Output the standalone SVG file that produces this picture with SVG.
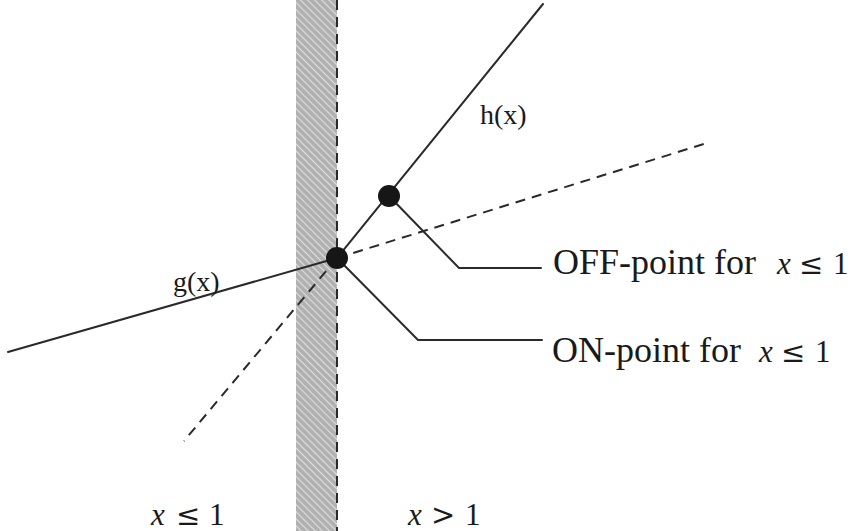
<svg xmlns="http://www.w3.org/2000/svg" width="851" height="531" viewBox="0 0 851 531">
  <defs>
    <pattern id="hatch" patternUnits="userSpaceOnUse" width="5" height="5" patternTransform="rotate(45)">
      <rect width="5" height="5" fill="#b0b0b0"/>
      <line x1="0" y1="2.5" x2="5" y2="2.5" stroke="#dedede" stroke-width="1.2"/>
    </pattern>
  </defs>
  <style>
    .ln { stroke: #2a2a2a; stroke-width: 2; fill: none; stroke-linecap: round; }
    .dash { stroke: #2a2a2a; stroke-width: 2; fill: none; stroke-dasharray: 10 7; }
    .pt { fill: #161616; }
    .txt { font-family: "Liberation Serif", "Times New Roman", serif; fill: #1a1a1a; }
    .big { font-size: 36px; }
    .fn { font-size: 28px; }
    .math { font-size: 31px; }
    .it { font-style: italic; }
    .rel { font-family: "DejaVu Serif", "Liberation Serif", serif; font-size: 29px; }
  </style>
  <rect width="851" height="531" fill="#ffffff"/>

  <g id="boundary">
    <rect x="296" y="0" width="41" height="531" fill="url(#hatch)"/>
    <line x1="337" y1="0" x2="337" y2="531" class="dash" stroke-width="1.6"/>
  </g>

  <g id="connectors">
    <line class="ln" x1="337" y1="258" x2="543" y2="4"/>
    <line class="dash" x1="337" y1="258" x2="184" y2="441"/>
    <line class="ln" x1="8" y1="352" x2="337" y2="258"/>
    <line class="dash" x1="337" y1="258" x2="707" y2="143"/>
    <polyline class="ln" points="389,196 459,268 541,268"/>
    <polyline class="ln" points="337,258 418,340 542,340"/>
  </g>

  <g id="on-point">
    <circle class="pt" cx="337" cy="258" r="11"/>
  </g>
  <g id="off-point">
    <circle class="pt" cx="389" cy="196" r="11"/>
  </g>

  <g id="label-h">
    <text class="txt fn" x="480" y="124">h(x)</text>
  </g>
  <g id="label-g">
    <text class="txt fn" x="173" y="291">g(x)</text>
  </g>

  <g id="label-off">
    <text class="txt big" x="553" y="274">OFF-point for</text>
    <text class="txt math" y="274"><tspan class="it" x="777">x</tspan><tspan class="rel" x="799">≤</tspan><tspan x="833">1</tspan></text>
  </g>
  <g id="label-on">
    <text class="txt big" x="552" y="362">ON-point for</text>
    <text class="txt math" y="362"><tspan class="it" x="759">x</tspan><tspan class="rel" x="781">≤</tspan><tspan x="815">1</tspan></text>
  </g>

  <g id="label-left">
    <text class="txt math" y="525"><tspan class="it" x="151">x</tspan><tspan class="rel" x="176">≤</tspan><tspan x="209">1</tspan></text>
  </g>
  <g id="label-right">
    <text class="txt math" y="525"><tspan class="it" x="408">x</tspan><tspan class="rel" x="431">&gt;</tspan><tspan x="465">1</tspan></text>
  </g>
</svg>
